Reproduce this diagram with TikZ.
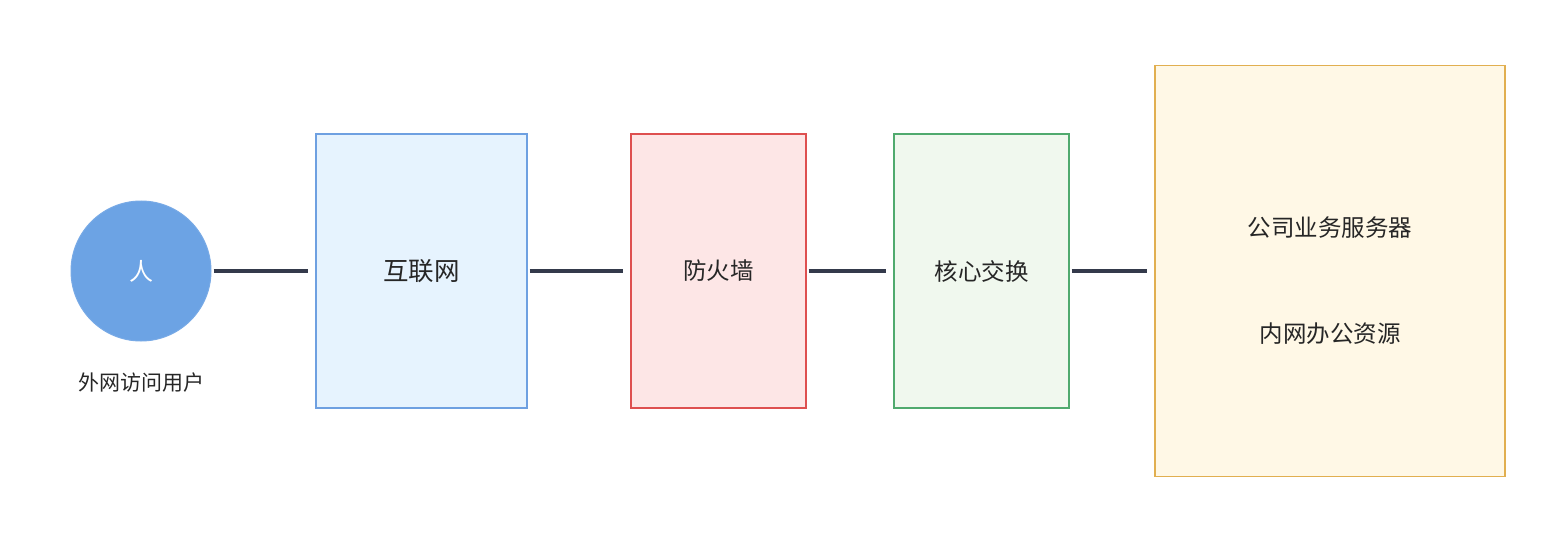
\documentclass[tikz,border=0pt]{standalone}
\usetikzlibrary{arrows.meta}
\usepackage{fontspec}
\newfontfamily\cjk{Noto Sans CJK SC}
\begin{document}
\begin{tikzpicture}[x=1pt,y=-1pt,
  box/.style={draw,line width=1.2pt,inner sep=0pt},
  lbl/.style={font=\cjk\fontsize{23.5}{28}\selectfont,text=black!85},
  arr/.style={line width=3.5pt,draw={rgb,255:red,52;green,58;blue,75},-{Rectangle[length=2pt,width=3.5pt]}, shorten <=2pt, shorten >=7pt}]
\useasboundingbox (0,0) rectangle (1562,548);
\node[circle,fill={rgb,255:red,108;green,163;blue,228},draw={rgb,255:red,120;green,170;blue,230},line width=1pt,minimum size=140pt,inner sep=0pt] (user) at (141,271) {\cjk\fontsize{24}{28}\selectfont\color{white}人};
\node[lbl,font=\cjk\fontsize{21}{25}\selectfont] (ulbl) at (141,383) {外网访问用户};
\node[box,draw={rgb,255:red,110;green,160;blue,225},fill={rgb,255:red,230;green,243;blue,254},minimum width=211pt,minimum height=274pt] (net) at (421.5,271) {};
\node[lbl,font=\cjk\fontsize{25.5}{30}\selectfont] at (net) {互联网};
\node[box,draw={rgb,255:red,222;green,80;blue,80},fill={rgb,255:red,253;green,230;blue,230},minimum width=175pt,minimum height=274pt] (fw) at (718.5,271) {};
\node[lbl] at (fw) {防火墙};
\node[box,draw={rgb,255:red,80;green,170;blue,110},fill={rgb,255:red,240;green,248;blue,238},minimum width=175pt,minimum height=274pt] (core) at (981.5,271) {};
\node[lbl] at (core) {核心交换};
\node[box,draw={rgb,255:red,225;green,175;blue,80},fill={rgb,255:red,255;green,248;blue,230},minimum width=350pt,minimum height=411pt] (srv) at (1330,271) {};
\node[lbl] (s1) at (1330,228) {公司业务服务器};
\node[lbl] (s2) at (1330,334) {内网办公资源};
\draw[arr] (user.east) -- (net.west);
\draw[arr] (net.east) -- (fw.west);
\draw[arr] (fw.east) -- (core.west);
\draw[arr] (core.east) -- (srv.west);
\end{tikzpicture}
\end{document}
